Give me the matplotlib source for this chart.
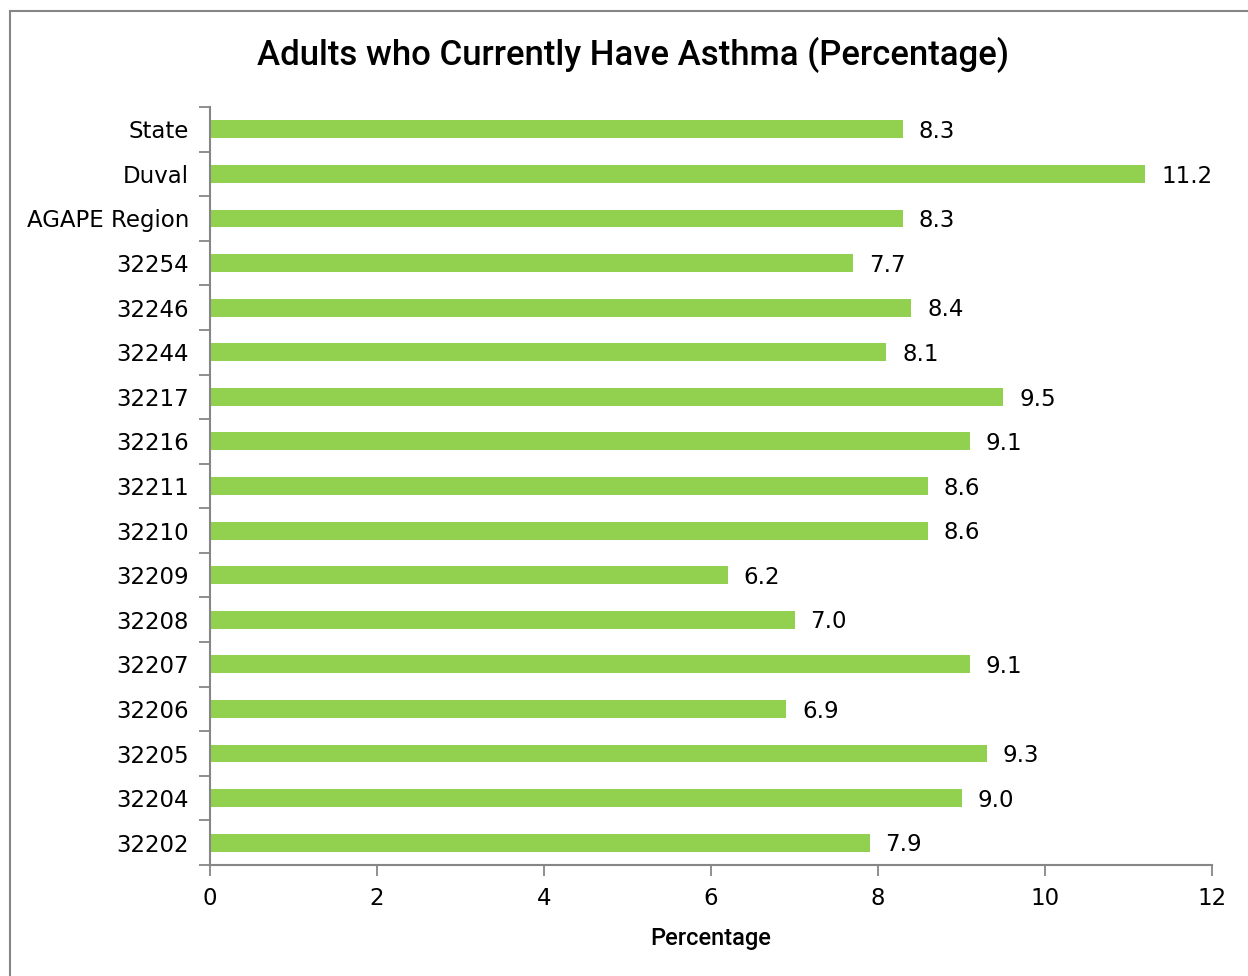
import matplotlib
matplotlib.use("Agg")
import matplotlib.pyplot as plt
from matplotlib.patches import Rectangle
import numpy as np

# Adult asthma prevalence by area
categories = ["State", "Duval", "AGAPE Region", "32254", "32246", "32244", "32217",
              "32216", "32211", "32210", "32209", "32208", "32207", "32206",
              "32205", "32204", "32202"]
values = [8.3, 11.2, 8.3, 7.7, 8.4, 8.1, 9.5, 9.1, 8.6, 8.6, 6.2, 7.0, 9.1, 6.9,
          9.3, 9.0, 7.9]
x_ticks = [0, 2, 4, 6, 8, 10, 12]

bar_color = "#92D050"
axis_color = "#868686"
label_font = ["DejaVu Sans"]
title_font = ["Roboto", "Liberation Sans", "DejaVu Sans"]

fig = plt.figure(figsize=(12.48, 9.76), dpi=100)
ax = fig.add_axes([210 / 1248, 1 - 865 / 976, (1212 - 210) / 1248, (865 - 107) / 976])

n = len(categories)
ypos = np.arange(n)
ax.barh(ypos, values, height=0.4, color=bar_color, zorder=2)
ax.set_ylim(n - 0.5, -0.5)
ax.set_xlim(0, 12)

for y, v in zip(ypos, values):
    ax.text(v + 0.19, y + 0.05, f"{v:.1f}", va="center", ha="left",
            fontsize=16.5, family=label_font, color="black")

ax.set_yticks(ypos)
ax.set_yticklabels(categories, fontsize=16.5, family=label_font)
ax.set_yticks(np.arange(n + 1) - 0.5, minor=True)
ax.tick_params(axis="y", which="major", length=0, pad=15)
ax.tick_params(axis="y", which="minor", length=8, width=1.3, color=axis_color, direction="out")

ax.set_xticks(x_ticks)
ax.set_xticklabels([str(t) for t in x_ticks], fontsize=16.5, family=label_font)
ax.tick_params(axis="x", length=8, width=1.3, color=axis_color, direction="out", pad=8)

for side in ["top", "right"]:
    ax.spines[side].set_visible(False)
for side in ["left", "bottom"]:
    ax.spines[side].set_color(axis_color)
    ax.spines[side].set_linewidth(1.5)

ax.set_xlabel("Percentage", fontsize=17, family=title_font, fontweight="medium",
              labelpad=12)

fig.text(0.507, 1 - 55 / 976, "Adults who Currently Have Asthma (Percentage)",
         ha="center", va="center", fontsize=25, family=title_font, fontweight="medium")

# Outer chart frame
fig.patches.append(Rectangle((10 / 1248, -0.05), 1.1, 1 - 11 / 976 + 0.05,
                             transform=fig.transFigure, fill=False,
                             edgecolor=axis_color, linewidth=1.5))

fig.savefig("out.png", dpi=100, facecolor="white")
